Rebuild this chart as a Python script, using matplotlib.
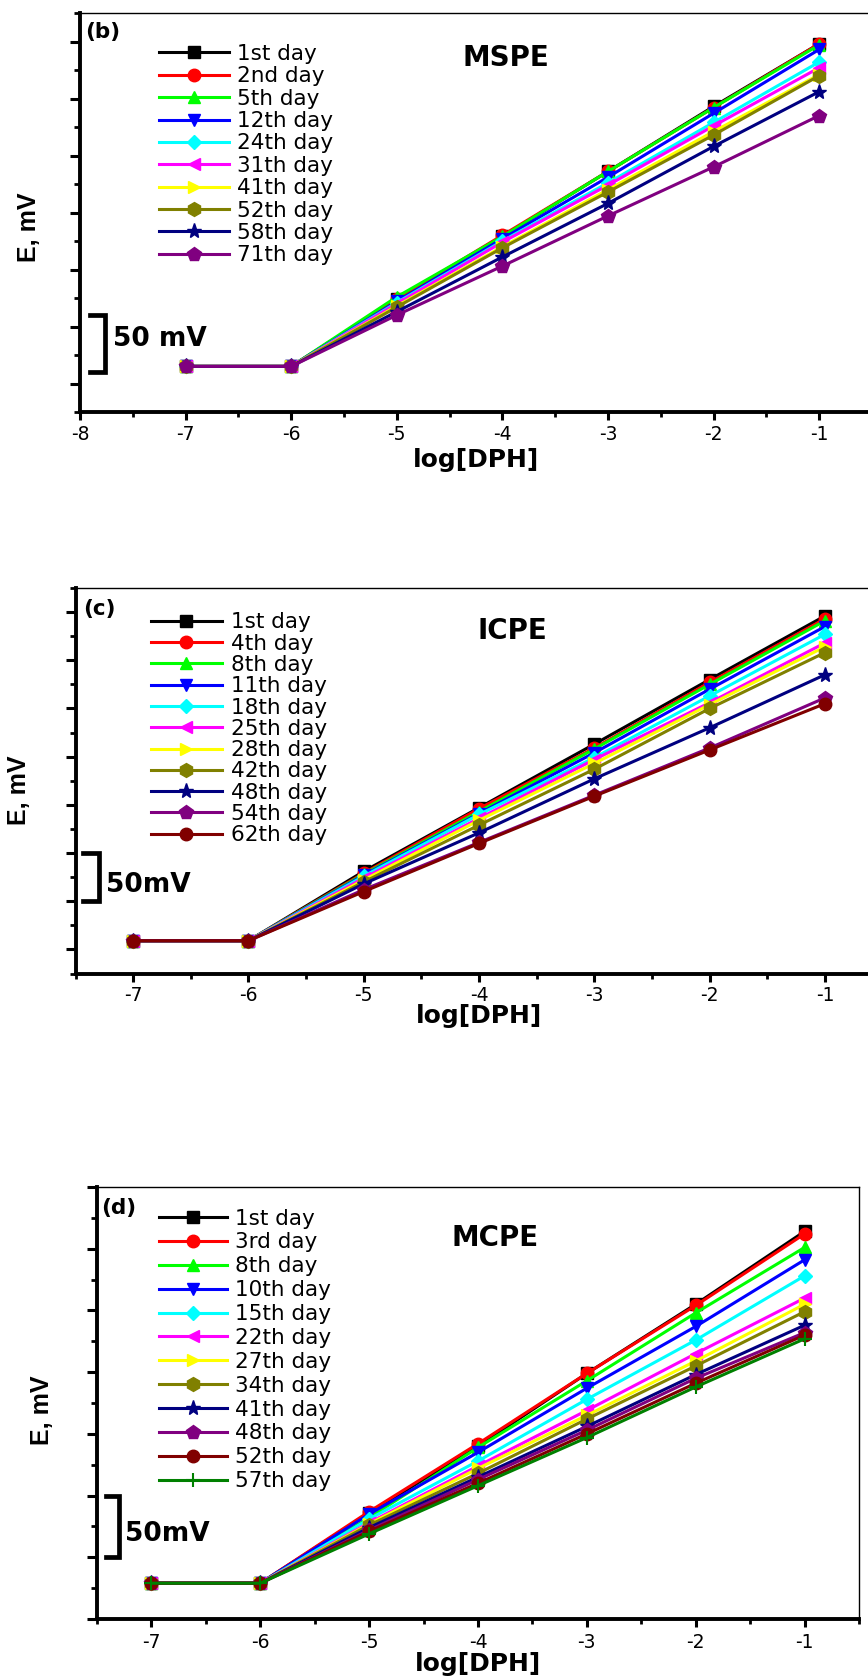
"""Потенциал электродов MSPE / ICPE / MCPE по дням (три панели)."""

import matplotlib

matplotlib.use("Agg")
import matplotlib.pyplot as plt  # noqa: E402
from matplotlib.ticker import MultipleLocator  # noqa: E402

plt.rcParams["font.family"] = ["DejaVu Sans"]
plt.rcParams["axes.unicode_minus"] = False

# --- data ---------------------------------------------------------------

LOG_DPH = [-7, -6, -5, -4, -3, -2, -1]

MSPE_DAYS = ["1st day", "2nd day", "5th day", "12th day", "24th day",
             "31th day", "41th day", "52th day", "58th day", "71th day"]
MSPE_E = [
    [15, 15, 74, 129, 186, 243, 298],
    [15, 15, 74, 130, 186, 242, 298],
    [15, 15, 76, 129, 186, 242, 297],
    [15, 15, 72, 127, 181, 237, 293],
    [15, 15, 71, 125, 176, 229, 282],
    [15, 15, 70, 124, 174, 226, 277],
    [15, 15, 68, 120, 170, 221, 271],
    [15, 15, 67, 119, 168, 218, 270],
    [15, 15, 63, 111, 158, 208, 256],
    [15, 15, 60, 103, 147, 190, 235],
]

ICPE_DAYS = ["1st day", "4th day", "8th day", "11th day", "18th day",
             "25th day", "28th day", "42th day", "48th day", "54th day",
             "62th day"]
ICPE_E = [
    [9, 9, 81, 147, 213, 280, 346],
    [9, 9, 79, 146, 209, 277, 343],
    [9, 9, 78, 143, 208, 275, 341],
    [9, 9, 77, 141, 204, 270, 335],
    [9, 9, 76, 140, 199, 263, 327],
    [9, 9, 74, 136, 197, 256, 318],
    [9, 9, 72, 134, 193, 254, 314],
    [9, 9, 70, 129, 187, 250, 308],
    [9, 9, 68, 121, 177, 230, 285],
    [9, 9, 62, 111, 160, 209, 261],
    [9, 9, 60, 110, 159, 207, 255],
]

MCPE_DAYS = ["1st day", "3rd day", "8th day", "10th day", "15th day",
             "22th day", "27th day", "34th day", "41th day", "48th day",
             "52th day", "57th day"]
MCPE_E = [
    [29, 29, 86, 140, 199, 255, 314],
    [29, 29, 87, 142, 199, 254, 312],
    [29, 29, 82, 139, 193, 248, 301],
    [29, 29, 85, 135, 187, 237, 291],
    [29, 29, 81, 128, 178, 226, 278],
    [29, 29, 78, 124, 169, 215, 260],
    [29, 29, 77, 122, 165, 209, 255],
    [29, 29, 76, 118, 162, 205, 249],
    [29, 29, 74, 115, 156, 198, 238],
    [29, 29, 72, 113, 153, 195, 232],
    [29, 29, 71, 110, 150, 191, 230],
    [29, 29, 69, 108, 147, 188, 227],
]

# цвет, маркер, размер маркера — общий порядок серий для всех панелей
STYLES = [
    ("#000000", "s", 8), ("#ff0000", "o", 9), ("#00ff00", "^", 9),
    ("#0000ff", "v", 9), ("#00ffff", "D", 7), ("#ff00ff", "<", 9),
    ("#ffff00", ">", 9), ("#808000", "h", 10), ("#000080", "*", 11),
    ("#800080", "p", 10), ("#800000", "o", 9), ("#008000", "+", 10),
]

FIG_W, FIG_H = 868, 1680


def _ax_rect(left, top, right, bottom):
    """Пиксели -> доли фигуры."""
    return [left / FIG_W, 1 - bottom / FIG_H,
            (right - left) / FIG_W, (bottom - top) / FIG_H]


def draw_panel(fig, rect, xlim, ylim, days, series, tag, name, bar,
               bar_text, legend_cfg, label_pos, tick_pad):
    ax = fig.add_axes(rect)
    for (color, marker, ms), label, vals in zip(STYLES, days, series):
        ax.plot(LOG_DPH, vals, color=color, marker=marker, markersize=ms,
                markeredgewidth=1.5 if marker == "+" else 1.0,
                linewidth=2.2, label=label)

    ax.set_xlim(*xlim)
    ax.set_ylim(*ylim)
    ax.xaxis.set_major_locator(MultipleLocator(1))
    ax.xaxis.set_minor_locator(MultipleLocator(0.5))
    ax.yaxis.set_major_locator(MultipleLocator(50))
    ax.yaxis.set_minor_locator(MultipleLocator(25))
    ax.tick_params(axis="y", which="major", direction="out", length=7,
                   width=2.2, labelleft=False)
    ax.tick_params(axis="y", which="minor", direction="out", length=4,
                   width=2)
    ax.tick_params(axis="x", which="major", direction="out", length=6,
                   width=2.2, labelsize=13.5, pad=tick_pad)
    ax.tick_params(axis="x", which="minor", direction="out", length=3.5,
                   width=2)
    for side in ("left", "bottom"):
        ax.spines[side].set_linewidth(2.8)
    for side in ("top", "right"):
        ax.spines[side].set_linewidth(1.0)

    ax.set_xlabel("log[DPH]", fontsize=18, fontweight="bold")
    ax.xaxis.set_label_coords(0.5, label_pos[0])
    ax.set_ylabel("E, mV", fontsize=18, fontweight="bold",
                  family=["Liberation Sans", "DejaVu Sans"])
    ax.yaxis.set_label_coords(label_pos[1], label_pos[2])

    ax.text(0.006 if tag != "(c)" else 0.009, legend_cfg["tag_y"], tag,
            transform=ax.transAxes, fontsize=15.5, fontweight="bold",
            ha="left", va="center")
    ax.text(name[0], name[1], name[2], transform=ax.transAxes,
            fontsize=20, fontweight="bold", ha="center", va="center")

    # масштабная скобка 50 мВ: x в долях осей, y в данных
    trans = ax.get_yaxis_transform()
    x0, x1, y0, y1 = bar
    ax.plot([x0, x1, x1, x0], [y0, y0, y1, y1], color="k", linewidth=3.4,
            transform=trans, clip_on=False, solid_joinstyle="miter")
    ax.text(bar_text[0], bar_text[1], bar_text[2], transform=trans,
            fontsize=19, fontweight="bold", ha="left", va="center")

    ax.legend(loc="upper left", bbox_to_anchor=legend_cfg["anchor"],
              bbox_transform=fig.transFigure, frameon=False, fontsize=15.5,
              numpoints=1, borderpad=0, borderaxespad=0,
              handlelength=legend_cfg["hl"], handletextpad=legend_cfg["tp"],
              labelspacing=legend_cfg["ls"])
    return ax


fig = plt.figure(figsize=(FIG_W / 100, FIG_H / 100), dpi=100)

# (b) MSPE
draw_panel(
    fig, _ax_rect(80, 13, 80 + 7.5 * 105.6, 412), (-8, -0.5), (-25, 325),
    MSPE_DAYS, MSPE_E, "(b)", (0.538, 0.887, "MSPE"),
    (0.0126, 0.0316, 10, 60), (0.0417, 39, "50 mV"),
    {"anchor": (0.1832, 0.9738), "hl": 3.26, "tp": 0.37, "ls": 0.11,
     "tag_y": 0.952},
    (-0.089, -0.049, 0.464), 3.0,
)

# (c) ICPE
draw_panel(
    fig, _ax_rect(75.5, 588, 75.5 + 7 * 115.3, 973.5), (-7.5, -0.5),
    (-25, 375), ICPE_DAYS, ICPE_E, "(c)", (0.5415, 0.888, "ICPE"),
    (0.0093, 0.0291, 50, 100), (0.0378, 67, "50mV"),
    {"anchor": (0.1736, 0.6355), "hl": 3.3, "tp": 0.43, "ls": 0.06,
     "tag_y": 0.9455},
    (-0.079, -0.055, 0.476), 3.0,
)

# (d) MCPE
draw_panel(
    fig, _ax_rect(97, 1187, 859, 1619), (-7.5, -0.5), (0, 350),
    MCPE_DAYS, MCPE_E, "(d)", (0.523, 0.8826, "MCPE"),
    (0.0118, 0.0289, 50, 100), (0.0367, 69, "50mV"),
    {"anchor": (0.1832, 0.2806), "hl": 3.15, "tp": 0.39, "ls": 0.18,
     "tag_y": 0.951},
    (-0.077, -0.056, 0.484), 4.0,
)

fig.savefig("out.png", dpi=100)
plt.close(fig)
